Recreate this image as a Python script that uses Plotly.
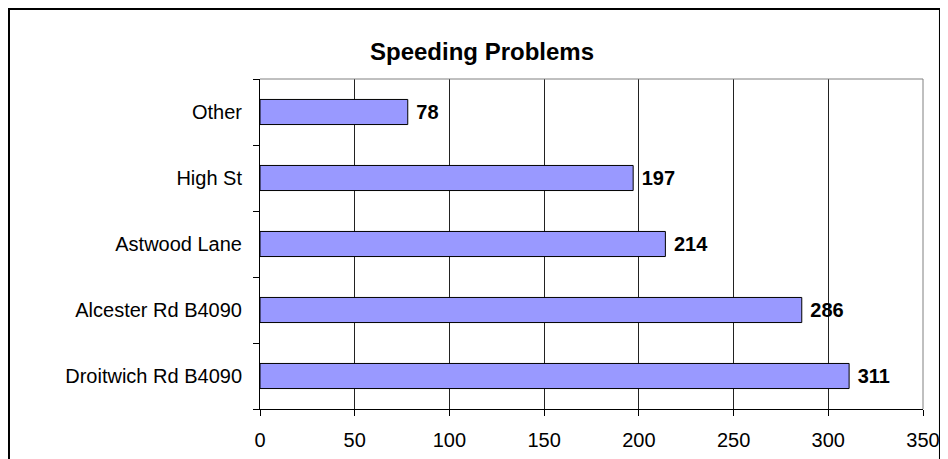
import plotly.graph_objects as go

roads = ["Droitwich Rd B4090", "Alcester Rd B4090", "Astwood Lane", "High St", "Other"]
counts = [311, 286, 214, 197, 78]
x_ticks = [0, 50, 100, 150, 200, 250, 300, 350]

fig = go.Figure(go.Bar(
    y=roads,
    x=counts,
    orientation="h",
    marker=dict(color="#9999FF", line=dict(color="black", width=1)),
    texttemplate="\u00a0<b>%{x}</b>",
    textposition="outside",
    textfont=dict(size=20, color="black", family="Liberation Sans, Arial"),
    cliponaxis=False,
))

# the page body adds 8px, so margins are shifted by that much
fig.update_layout(
    width=948, height=459,
    margin=dict(l=252, r=33, t=71, b=58),
    paper_bgcolor="white", plot_bgcolor="white",
    font=dict(family="Liberation Sans, Arial", size=20, color="black"),
    bargap=0.62,
    showlegend=False,
    title=dict(text="<b>Speeding Problems</b>", x=0.5, xanchor="center",
               y=0.906, yanchor="middle", font=dict(size=24, color="black")),
)

fig.update_xaxes(
    range=[0, 350], tickvals=x_ticks, showgrid=True, gridcolor="#222222", gridwidth=1,
    showline=True, linecolor="black", linewidth=1,
    ticks="outside", ticklen=6, tickcolor="black", zeroline=False,
    ticklabelstandoff=7,
)
fig.update_yaxes(
    showline=True, linecolor="black", linewidth=1,
    ticks="outside", ticklen=6, tickcolor="black", tickson="boundaries",
    showgrid=False, ticklabelstandoff=13,
)

# grey plot-area border on top and right, black frame around the chart
fig.add_shape(type="line", xref="paper", yref="paper", x0=0, x1=1, y0=1, y1=1,
              line=dict(color="#808080", width=1))
fig.add_shape(type="line", xref="paper", yref="paper", x0=1, x1=1, y0=0, y1=1,
              line=dict(color="#808080", width=1))
fig.add_shape(type="rect", xref="paper", yref="paper",
              x0=-0.3786, x1=1.0256, y0=-0.3, y1=1.2121,
              line=dict(color="black", width=2), layer="below")

fig.write_html("out.html")
